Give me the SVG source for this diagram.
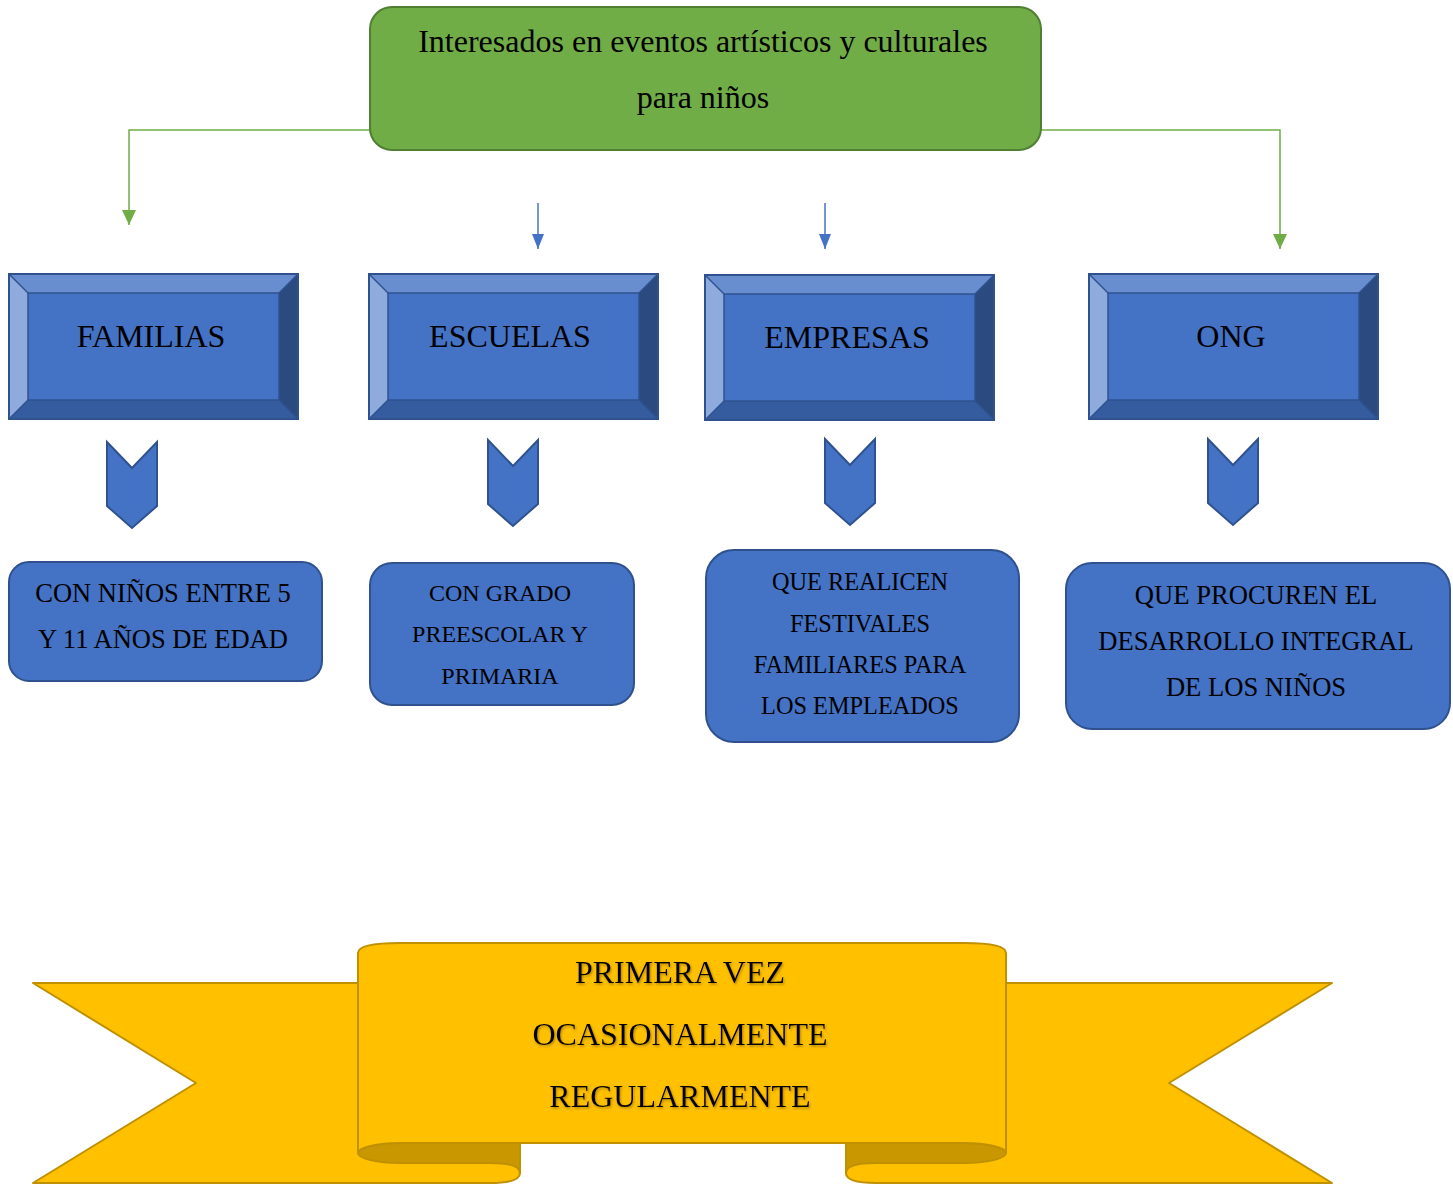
<svg xmlns="http://www.w3.org/2000/svg" xmlns:xlink="http://www.w3.org/1999/xlink" width="1453" height="1184" viewBox="0 0 1453 1184">
<style>
  text { font-family: "Liberation Serif", "Times New Roman", serif; fill: #000; text-anchor: middle; }
  .bfill { fill: #4472C4; stroke: #2F528F; stroke-width: 2; }
  .gline { fill: none; stroke: #70AD47; stroke-width: 1.5; }
  .bline { fill: none; stroke: #4472C4; stroke-width: 1.5; }
  .rib { fill: #FFC000; stroke: #BF9000; stroke-width: 2; stroke-linejoin: round; }
  .ribd { fill: #C99800; stroke: #BF9000; stroke-width: 2; stroke-linejoin: round; }
  .t32 { font-size: 32px; }
  .ban { font-size: 32px; filter: url(#shadow); }
</style>
<defs>
  <marker id="ag" viewBox="0 0 15 14" refX="15" refY="7" markerWidth="15" markerHeight="14" markerUnits="userSpaceOnUse" orient="auto">
    <path d="M0,0 L15,7 L0,14 Z" fill="#70AD47"/>
  </marker>
  <marker id="ab" viewBox="0 0 15 12" refX="15" refY="6" markerWidth="15" markerHeight="12" markerUnits="userSpaceOnUse" orient="auto">
    <path d="M0,0 L15,6 L0,12 Z" fill="#4472C4"/>
  </marker>
  <filter id="shadow" x="-10%" y="-30%" width="120%" height="160%">
    <feDropShadow dx="1" dy="1.5" stdDeviation="1.2" flood-color="#7a5a00" flood-opacity="0.6"/>
  </filter>
  <g id="bevel">
    <rect x="0" y="0" width="289" height="145" fill="#4472C4"/>
    <polygon points="0,0 289,0 270,19 19,19" fill="#698ED0"/>
    <polygon points="0,0 19,19 19,126 0,145" fill="#8FAADC"/>
    <polygon points="0,145 19,126 270,126 289,145" fill="#355C9E"/>
    <polygon points="289,0 289,145 270,126 270,19" fill="#2B4A80"/>
    <rect x="19" y="19" width="251" height="107" fill="#4472C4" stroke="#2F528F" stroke-width="1.5"/>
    <line x1="0" y1="0" x2="19" y2="19" stroke="#2F528F" stroke-width="1.5"/>
    <line x1="289" y1="0" x2="270" y2="19" stroke="#2F528F" stroke-width="1.5"/>
    <line x1="0" y1="145" x2="19" y2="126" stroke="#2F528F" stroke-width="1.5"/>
    <line x1="289" y1="145" x2="270" y2="126" stroke="#2F528F" stroke-width="1.5"/>
    <rect x="0" y="0" width="289" height="145" fill="none" stroke="#2F528F" stroke-width="2"/>
  </g>
  <polygon id="chev" points="0,0 25,26 50,0 50,64 25,86 0,64" class="bfill"/>
</defs>

<g id="connectors">
  <polyline class="gline" points="370,130 129,130 129,225" marker-end="url(#ag)"/>
  <polyline class="gline" points="1041,130 1280,130 1280,249" marker-end="url(#ag)"/>
  <line class="bline" x1="538" y1="203" x2="538" y2="249" marker-end="url(#ab)"/>
  <line class="bline" x1="825" y1="203" x2="825" y2="249" marker-end="url(#ab)"/>
</g>

<g id="top">
  <rect x="370" y="7" width="671" height="143" rx="22" fill="#70AD47" stroke="#507E32" stroke-width="2"/>
  <text x="703" y="52" font-size="32">Interesados en eventos artísticos y culturales</text>
  <text x="703" y="108" font-size="32">para niños</text>
</g>

<g id="familias">
  <use xlink:href="#bevel" x="9" y="274"/>
  <text class="t32" x="151" y="347">FAMILIAS</text>
</g>
<g id="escuelas">
  <use xlink:href="#bevel" x="369" y="274"/>
  <text class="t32" x="510" y="347">ESCUELAS</text>
</g>
<g id="empresas">
  <use xlink:href="#bevel" x="705" y="275"/>
  <text class="t32" x="847" y="348">EMPRESAS</text>
</g>
<g id="ong">
  <use xlink:href="#bevel" x="1089" y="274"/>
  <text class="t32" x="1231" y="347">ONG</text>
</g>

<g id="chevron-familias"><use xlink:href="#chev" x="107" y="442"/></g>
<g id="chevron-escuelas"><use xlink:href="#chev" x="488" y="440"/></g>
<g id="chevron-empresas"><use xlink:href="#chev" x="825" y="439"/></g>
<g id="chevron-ong"><use xlink:href="#chev" x="1208" y="439"/></g>

<g id="desc-familias">
  <rect x="9" y="562" width="313" height="119" rx="20" class="bfill"/>
  <text x="163" y="602" font-size="26.5">CON NIÑOS ENTRE 5</text>
  <text x="163" y="648" font-size="26.5">Y 11 AÑOS DE EDAD</text>
</g>
<g id="desc-escuelas">
  <rect x="370" y="563" width="264" height="142" rx="22" class="bfill"/>
  <text x="500" y="601" font-size="24">CON GRADO</text>
  <text x="500" y="642" font-size="24">PREESCOLAR Y</text>
  <text x="500" y="684" font-size="24">PRIMARIA</text>
</g>
<g id="desc-empresas">
  <rect x="706" y="550" width="313" height="192" rx="28" class="bfill"/>
  <text x="860" y="590" font-size="24.3">QUE REALICEN</text>
  <text x="860" y="632" font-size="24.3">FESTIVALES</text>
  <text x="860" y="673" font-size="24.3">FAMILIARES PARA</text>
  <text x="860" y="714" font-size="24.3">LOS EMPLEADOS</text>
</g>
<g id="desc-ong">
  <rect x="1066" y="563" width="384" height="166" rx="26" class="bfill"/>
  <text x="1256" y="604" font-size="26.6">QUE PROCUREN EL</text>
  <text x="1256" y="650" font-size="26.6">DESARROLLO INTEGRAL</text>
  <text x="1256" y="696" font-size="26.6">DE LOS NIÑOS</text>
</g>

<g id="banner">
  <path class="rib" d="M33,983 H520 V1173 Q520,1183 490,1183 H33 L196,1083 Z"/>
  <path class="rib" d="M1332,983 H846 V1173 Q846,1183 876,1183 H1332 L1169,1083 Z"/>
  <path class="ribd" d="M400,1143 H520 V1173 Q520,1163 490,1163 H400 A42,10 0 0 1 358,1153 A42,10 0 0 1 400,1143 Z"/>
  <path class="ribd" d="M964,1143 H846 V1173 Q846,1163 876,1163 H964 A42,10 0 0 0 1006,1153 A42,10 0 0 0 964,1143 Z"/>
  <path class="rib" d="M358,953 Q358,943 400,943 H964 Q1006,943 1006,953 V1153 A42,10 0 0 0 964,1143 H400 A42,10 0 0 0 358,1153 Z"/>
  <text class="ban" x="680" y="983">PRIMERA VEZ</text>
  <text class="ban" x="680" y="1045">OCASIONALMENTE</text>
  <text class="ban" x="680" y="1107">REGULARMENTE</text>
</g>
</svg>
